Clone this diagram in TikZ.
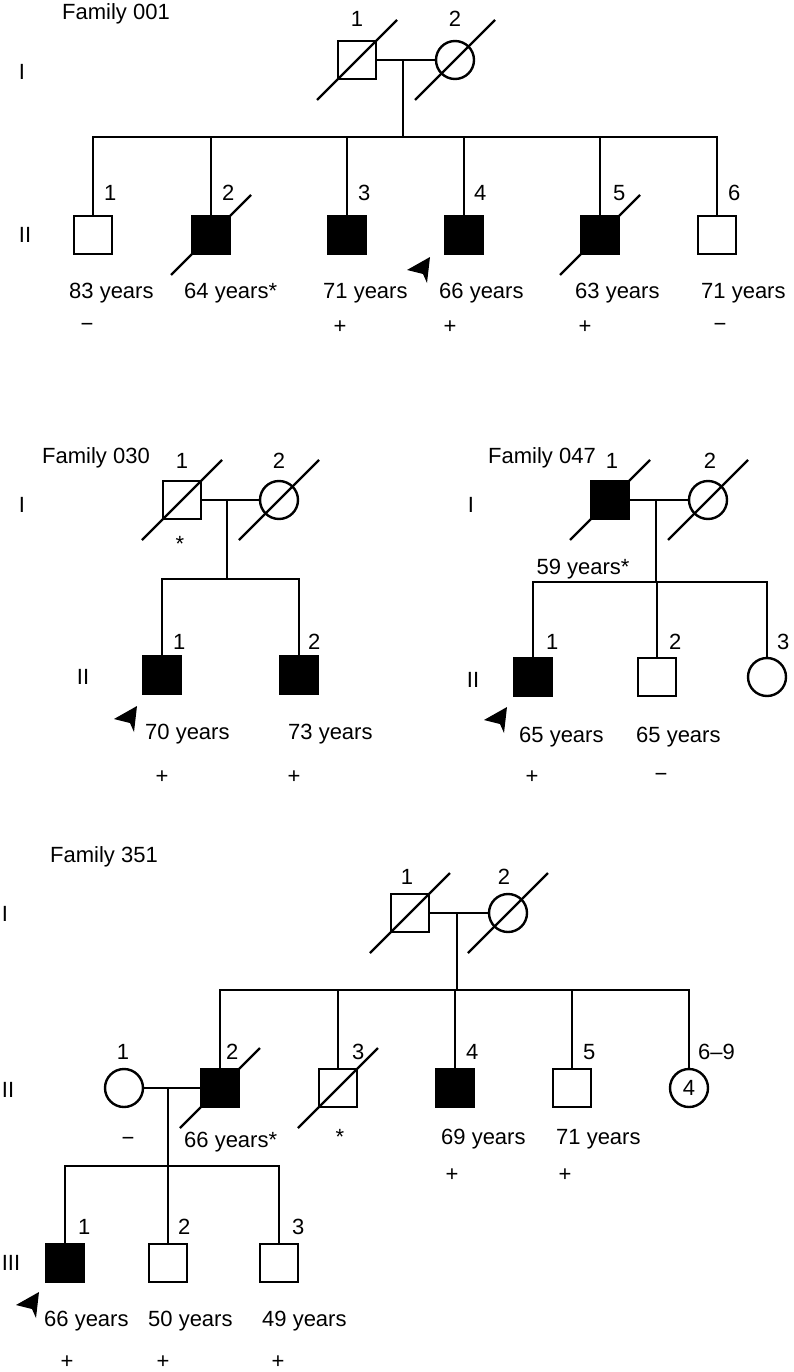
\documentclass[tikz,border=0pt]{standalone}
\usepackage{fontspec}
\setmainfont{Liberation Sans}
\newcommand\deceased[1]{\draw ([shift={(-40,40)}]#1.center) -- ([shift={(40,-40)}]#1.center);}
\newcommand\probandarrow[1]{\fill (#1) -- ++(-23,13) -- ++(16,4) -- ++(4,9) -- cycle;}
\begin{document}
\begin{tikzpicture}[x=1pt,y=-1pt,line width=2.4pt,
  font=\fontsize{22}{26}\selectfont,
  male/.style={draw,rectangle,minimum size=38pt,inner sep=0pt},
  female/.style={draw,circle,minimum size=38pt,inner sep=0pt},
  aff/.style={fill=black},
  txt/.style={inner sep=0pt},
  num/.style={inner sep=0pt,anchor=west},
  age/.style={inner sep=0pt,anchor=west}]
\useasboundingbox (0,0) rectangle (793,1372);

% ================= Family 001 =================
\node[txt,anchor=west] (t001) at (61,14) {Family 001};
\node[txt] (g001i) at (22,72) {I};
\node[txt] (g001ii) at (25,235) {II};
\node[male] (a1) at (357,60) {};
\node[female] (a2) at (455,60) {};
\node[txt] (a1n) at (357,19) {1};
\node[txt] (a2n) at (455,19) {2};
\deceased{a1}
\deceased{a2}
\draw (a1) -- (a2);
\coordinate (a12) at (403,60);
\coordinate (a12s) at (403,137);
\draw (a12) -- (a12s);
\node[male] (b1) at (93,235) {};
\node[male,aff] (b2) at (211,235) {};
\node[male,aff] (b3) at (347,235) {};
\node[male,aff] (b4) at (464,235) {};
\node[male,aff] (b5) at (600,235) {};
\node[male] (b6) at (717,235) {};
\draw (b1.north) -- (b1.north |- a12s) -- (b6.north |- a12s) -- (b6.north);
\foreach \n in {b2,b3,b4,b5} \draw (\n.north) -- (\n.north |- a12s);
\deceased{b2}
\deceased{b5}
\node[num] (b1n) at (103,193) {1};
\node[num] (b2n) at (221,193) {2};
\node[num] (b3n) at (357,193) {3};
\node[num] (b4n) at (473,193) {4};
\node[num] (b5n) at (612,193) {5};
\node[num] (b6n) at (727,193) {6};
\node[age] (b1a) at (68,293) {83 years};
\node[age] (b2a) at (183,293) {64 years*};
\node[age] (b3a) at (322,293) {71 years};
\node[age] (b4a) at (438,293) {66 years};
\node[age] (b5a) at (574,293) {63 years};
\node[age] (b6a) at (700,293) {71 years};
\node[txt] (b1s) at (87,327) {−};
\node[txt] (b3s) at (340,327) {+};
\node[txt] (b4s) at (450,327) {+};
\node[txt] (b5s) at (585,327) {+};
\node[txt] (b6s) at (720,327) {−};
\coordinate (p001) at (430,257);
\probandarrow{p001}

% ================= Family 030 =================
\node[txt,anchor=west] (t030) at (41,458) {Family 030};
\node[txt] (g030i) at (22,505) {I};
\node[txt] (g030ii) at (83,677) {II};
\node[male] (c1) at (182,500) {};
\node[female] (c2) at (279,500) {};
\node[txt] (c1n) at (182,461) {1};
\node[txt] (c2n) at (279,461) {2};
\deceased{c1}
\deceased{c2}
\draw (c1) -- (c2);
\node[txt] (c1star) at (180,544) {*};
\coordinate (c12) at (227,500);
\coordinate (c12s) at (227,579);
\draw (c12) -- (c12s);
\node[male,aff] (d1) at (162,675) {};
\node[male,aff] (d2) at (299,675) {};
\draw (d1.north) -- (d1.north |- c12s) -- (d2.north |- c12s) -- (d2.north);
\node[num] (d1n) at (172,642) {1};
\node[num] (d2n) at (307,642) {2};
\node[age] (d1a) at (144,734) {70 years};
\node[age] (d2a) at (287,734) {73 years};
\node[txt] (d1s) at (162,777) {+};
\node[txt] (d2s) at (294,777) {+};
\coordinate (p030) at (137,706);
\probandarrow{p030}

% ================= Family 047 =================
\node[txt,anchor=west] (t047) at (487,458) {Family 047};
\node[txt] (g047i) at (471,505) {I};
\node[txt] (g047ii) at (473,680) {II};
\node[male,aff] (e1) at (610,500) {};
\node[female] (e2) at (708,500) {};
\node[txt] (e1n) at (612,461) {1};
\node[txt] (e2n) at (710,461) {2};
\deceased{e1}
\deceased{e2}
\draw (e1) -- (e2);
\node[txt] (e1a) at (583,569) {59 years*};
\coordinate (e12) at (656,500);
\coordinate (e12s) at (656,582);
\draw (e12) -- (e12s);
\node[male,aff] (f1) at (533,677) {};
\node[male] (f2) at (657,677) {};
\node[female] (f3) at (767,677) {};
\draw (f1.north) -- (f1.north |- e12s) -- (f3.north |- e12s) -- (f3.north);
\draw (f2.north) -- (f2.north |- e12s);
\node[num] (f1n) at (545,642) {1};
\node[num] (f2n) at (668,642) {2};
\node[num] (f3n) at (776,642) {3};
\node[age] (f1a) at (518,737) {65 years};
\node[age] (f2a) at (635,737) {65 years};
\node[txt] (f1s) at (532,777) {+};
\node[txt] (f2s) at (661,777) {−};
\coordinate (p047) at (507,707);
\probandarrow{p047}

% ================= Family 351 =================
\node[txt,anchor=west] (t351) at (49,857) {Family 351};
\node[txt] (g351i) at (5,914) {I};
\node[txt] (g351ii) at (8,1090) {II};
\node[txt] (g351iii) at (11,1263) {III};
\node[male] (g1) at (410,913) {};
\node[female] (g2) at (508,913) {};
\node[txt] (g1n) at (407,877) {1};
\node[txt] (g2n) at (504,877) {2};
\deceased{g1}
\deceased{g2}
\draw (g1) -- (g2);
\coordinate (g12) at (457,913);
\coordinate (g12s) at (457,990);
\draw (g12) -- (g12s);
\node[female] (h1) at (124,1088) {};
\node[male,aff] (h2) at (220,1088) {};
\node[male] (h3) at (338,1088) {};
\node[male,aff] (h4) at (455,1088) {};
\node[male] (h5) at (572,1088) {};
\node[female] (h6) at (689,1088) {4};
\draw (h2.north) -- (h2.north |- g12s) -- (h6.north |- g12s) -- (h6.north);
\foreach \n in {h3,h4,h5} \draw (\n.north) -- (\n.north |- g12s);
\deceased{h2}
\deceased{h3}
\node[txt] (h1n) at (123,1052) {1};
\node[num] (h2n) at (225,1052) {2};
\node[num] (h3n) at (351,1052) {3};
\node[num] (h4n) at (465,1052) {4};
\node[num] (h5n) at (582,1052) {5};
\node[num] (h6n) at (697,1052) {6–9};
\draw (h1) -- (h2);
\coordinate (h12) at (168,1088);
\coordinate (h12s) at (168,1166);
\draw (h12) -- (h12s);
\node[txt] (h1s) at (128,1141) {−};
\node[age] (h2a) at (183,1142) {66 years*};
\node[txt] (h3star) at (340,1137) {*};
\node[age] (h4a) at (440,1139) {69 years};
\node[age] (h5a) at (555,1139) {71 years};
\node[txt] (h4s) at (452,1175) {+};
\node[txt] (h5s) at (565,1175) {+};
\node[male,aff] (i1) at (65,1263) {};
\node[male] (i2) at (168,1263) {};
\node[male] (i3) at (279,1263) {};
\draw (i1.north) -- (i1.north |- h12s) -- (i3.north |- h12s) -- (i3.north);
\draw (i2.north) -- (i2.north |- h12s);
\node[num] (i1n) at (77,1227) {1};
\node[num] (i2n) at (177,1227) {2};
\node[num] (i3n) at (291,1227) {3};
\node[age] (i1a) at (43,1321) {66 years};
\node[age] (i2a) at (147,1321) {50 years};
\node[age] (i3a) at (261,1321) {49 years};
\node[txt] (i1s) at (67,1362) {+};
\node[txt] (i2s) at (163,1362) {+};
\node[txt] (i3s) at (278,1362) {+};
\coordinate (p351) at (39,1292);
\probandarrow{p351}
\end{tikzpicture}
\end{document}
